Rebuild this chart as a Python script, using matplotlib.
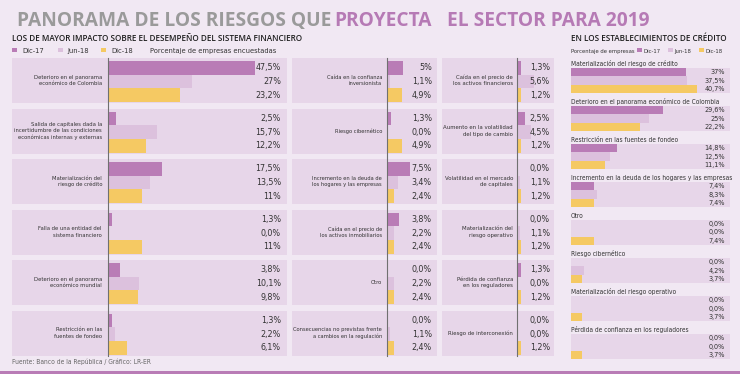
import os
import re
import glob
import matplotlib
matplotlib.use('Agg')
import matplotlib.pyplot as plt
from matplotlib import font_manager as fm
from matplotlib.patches import Rectangle

# ---------------- data ----------------
periods = ['Dic-17', 'Jun-18', 'Dic-18']

col1_labels = ["Deterioro en el panorama\neconómico de Colombia",
               "Salida de capitales dada la\nincertidumbre de las condiciones\neconómicas internas y externas",
               "Materialización del\nriesgo de crédito",
               "Falla de una entidad del\nsistema financiero",
               "Deterioro en el panorama\neconómico mundial",
               "Restricción en las\nfuentes de fondeo"]
col1_dic17 = [47.5, 2.5, 17.5, 1.3, 3.8, 1.3]
col1_jun18 = [27, 15.7, 13.5, 0.0, 10.1, 2.2]
col1_dic18 = [23.2, 12.2, 11, 11, 9.8, 6.1]

col2_labels = ["Caída en la confianza\ninversionista",
               "Riesgo cibernético",
               "Incremento en la deuda de\nlos hogares y las empresas",
               "Caída en el precio de\nlos activos inmobiliarios",
               "Otro",
               "Consecuencias no previstas frente\na cambios en la regulación"]
col2_dic17 = [5, 1.3, 7.5, 3.8, 0.0, 0.0]
col2_jun18 = [1.1, 0.0, 3.4, 2.2, 2.2, 1.1]
col2_dic18 = [4.9, 4.9, 2.4, 2.4, 2.4, 2.4]

col3_labels = ["Caída en el precio de\nlos activos financieros",
               "Aumento en la volatilidad\ndel tipo de cambio",
               "Volatilidad en el mercado\nde capitales",
               "Materialización del\nriesgo operativo",
               "Pérdida de confianza\nen los reguladores",
               "Riesgo de interconexión"]
col3_dic17 = [1.3, 2.5, 0.0, 0.0, 1.3, 0.0]
col3_jun18 = [5.6, 4.5, 1.1, 1.1, 0.0, 0.0]
col3_dic18 = [1.2, 1.2, 1.2, 1.2, 1.2, 1.2]

cred_labels = ["Materialización del riesgo de crédito",
               "Deterioro en el panorama económico de Colombia",
               "Restricción en las fuentes de fondeo",
               "Incremento en la deuda de los hogares y las empresas",
               "Otro",
               "Riesgo cibernético",
               "Materialización del riesgo operativo",
               "Pérdida de confianza en los reguladores"]
cred_dic17 = [37, 29.6, 14.8, 7.4, 0.0, 0.0, 0.0, 0.0]
cred_jun18 = [37.5, 25, 12.5, 8.3, 0.0, 4.2, 0.0, 0.0]
cred_dic18 = [40.7, 22.2, 11.1, 7.4, 7.4, 3.7, 3.7, 3.7]

# ---------------- style ----------------
BG = '#f1e8f3'
PANEL = '#e7d6e9'
COLORS = ['#b97cb6', '#dcc1dd', '#f5c963']
GRAY_T = '#9a9a9a'
PURPLE_T = '#b67ab5'
TXT = '#333333'

names = {f.name for f in fm.fontManager.ttflist}
HEAD = 'Open Sans' if 'Open Sans' in names else 'DejaVu Sans'


def find_narrow():
    files = [f.fname for f in fm.fontManager.ttflist]
    for d in ['/usr/share/fonts', '/usr/local/share/fonts', os.path.expanduser('~/.fonts'),
              os.path.expanduser('~/.local/share/fonts')]:
        files += glob.glob(os.path.join(d, '**', '*.[ot]tf'), recursive=True)
    pats = [r'LiberationSansNarrow-Regular\.ttf$',
            r'NotoSans-Condensed\.(ttf|otf)$',
            r'NotoSans-SemiCondensed\.(ttf|otf)$',
            r'DejaVuSansCondensed\.ttf$',
            r'(Sans|Roboto|Lato|Inter)[A-Za-z]*-?Condensed(-Regular)?\.(ttf|otf)$',
            r'Narrow(-Regular)?\.(ttf|otf)$']
    for p in pats:
        for fn in files:
            if re.search(p, os.path.basename(fn)):
                return fn
    return None


NARROW_FILE = find_narrow()


def nfont(size):
    if NARROW_FILE:
        return fm.FontProperties(fname=NARROW_FILE, size=size)
    return fm.FontProperties(family='Liberation Sans', size=size)


def fmt(v):
    if v == 0:
        return '0,0%'
    if float(v).is_integer():
        return '%d%%' % int(v)
    return ('%.1f%%' % v).replace('.', ',')


W, H = 740, 374
fig = plt.figure(figsize=(W / 100, H / 100), dpi=100)
fig.patch.set_facecolor(BG)

groups = {}  # name -> list of (text artist, max width px)


def fit(group, t, maxw):
    groups.setdefault(group, []).append((t, maxw))


def px_axes(x0, y0, x1, y1, **kw):
    return fig.add_axes([x0 / W, 1 - y1 / H, (x1 - x0) / W, (y1 - y0) / H], **kw)


def clean(ax):
    for s in ax.spines.values():
        s.set_visible(False)
    ax.set_xticks([])
    ax.set_yticks([])


PXP = 3.1  # pixels per percent point

columns = [
    dict(labels=col1_labels, vals=(col1_dic17, col1_jun18, col1_dic18),
         x0=12, x1=287, axis=108, lab_r=102, val_r=281),
    dict(labels=col2_labels, vals=(col2_dic17, col2_jun18, col2_dic18),
         x0=292, x1=437, axis=387, lab_r=382, val_r=432),
    dict(labels=col3_labels, vals=(col3_dic17, col3_jun18, col3_dic18),
         x0=442, x1=554, axis=517, lab_r=513, val_r=550),
]

ov = fig.add_axes([0, 0, 1, 1], zorder=10)
ov.set_xlim(0, W)
ov.set_ylim(H, 0)
ov.axis('off')
ov.patch.set_alpha(0)

PANEL_TOP, PANEL_H, PANEL_STEP = 58, 45, 50.5
for k, col in enumerate(columns):
    w = col['x1'] - col['x0']
    for i, lab in enumerate(col['labels']):
        top = PANEL_TOP + PANEL_STEP * i
        ax = px_axes(col['x0'], top, col['x1'], top + PANEL_H)
        ax.set_facecolor(PANEL)
        clean(ax)
        ax.set_xlim((col['x0'] - col['axis']) / PXP, (col['x1'] - col['axis']) / PXP)
        ax.set_ylim(2.57, -0.72)
        vals = [s[i] for s in col['vals']]
        ax.barh(range(3), vals, height=1.0, color=COLORS, linewidth=0)
        tr = ax.get_yaxis_transform()
        for j, v in enumerate(vals):
            ax.text((col['val_r'] - col['x0']) / w, j, fmt(v), transform=tr,
                    ha='right', va='center', fontproperties=nfont(6.4), color=TXT)
        t = ax.text((col['lab_r'] - col['x0']) / w, 0.5, lab, transform=ax.transAxes,
                    ha='right', va='center', multialignment='right',
                    fontproperties=nfont(5.8), color=TXT, linespacing=1.3)
        fit('cat%d' % k, t, col['lab_r'] - col['x0'] - 2)
    ov.plot([col['axis'], col['axis']], [PANEL_TOP, PANEL_TOP + PANEL_STEP * 5 + PANEL_H],
            color='#707070', lw=0.8)

# right section: establecimientos de crédito
CX0, CX1 = 571, 730
for i, lab in enumerate(cred_labels):
    top = 68 + 38 * i
    ax = px_axes(CX0, top, CX1, top + 25)
    ax.set_facecolor(PANEL)
    clean(ax)
    ax.set_xlim(0, (CX1 - CX0) / PXP)
    ax.set_ylim(2.5, -0.5)
    vals = [cred_dic17[i], cred_jun18[i], cred_dic18[i]]
    ax.barh(range(3), vals, height=1.0, color=COLORS, linewidth=0)
    tr = ax.get_yaxis_transform()
    for j, v in enumerate(vals):
        ax.text((725 - CX0) / (CX1 - CX0), j, fmt(v), transform=tr, ha='right',
                va='center', fontproperties=nfont(5.2), color=TXT)
    t = ov.text(CX0, top - 2, lab, ha='left', va='baseline',
                fontproperties=nfont(5.8), color=TXT)
    fit('cred', t, 160)

# titles
ov.text(17, 26, "PANORAMA DE LOS RIESGOS QUE", ha='left', va='baseline',
        fontsize=13.8, family=HEAD, fontweight='bold', color=GRAY_T)
ov.text(334, 26, "PROYECTA", ha='left', va='baseline',
        fontsize=13.8, family=HEAD, fontweight='bold', color=PURPLE_T)
ov.text(447, 26, "EL SECTOR PARA 2019", ha='left', va='baseline',
        fontsize=13.8, family=HEAD, fontweight='bold', color=PURPLE_T)

ov.text(12, 41, "LOS DE MAYOR IMPACTO SOBRE EL DESEMPEÑO DEL SISTEMA FINANCIERO",
        ha='left', va='baseline', fontsize=5.85, family=HEAD, fontweight='semibold', color='#1e1e1e')
ov.text(571, 41, "EN LOS ESTABLECIMIENTOS DE CRÉDITO",
        ha='left', va='baseline', fontsize=5.85, family=HEAD, fontweight='semibold', color='#1e1e1e')

# legends
for (sx, tx), name, c in zip([(12, 22), (58, 67), (101, 111)], periods, COLORS):
    ov.add_patch(Rectangle((sx, 47.8), 4.6, 4.6, color=c, lw=0))
    t = ov.text(tx, 52.5, name, ha='left', va='baseline', fontproperties=nfont(5.6), color=TXT)
    fit('legL', t, 30)
t = ov.text(150, 52.5, "Porcentaje de empresas encuestadas", ha='left', va='baseline',
            fontproperties=nfont(5.6), color=TXT)
fit('legL', t, 125)

t = ov.text(571, 52.5, "Porcentaje de empresas", ha='left', va='baseline',
            fontproperties=nfont(5.6), color=TXT)
fit('legR', t, 64)
for (sx, tx), name, c in zip([(637, 643), (668, 674), (699, 705)], periods, COLORS):
    ov.add_patch(Rectangle((sx, 47.8), 4.6, 4.6, color=c, lw=0))
    t = ov.text(tx, 52.5, name, ha='left', va='baseline', fontproperties=nfont(5.6), color=TXT)
    fit('legR', t, 24)

# footer
ov.text(12, 364, "Fuente: Banco de la República / Gráfico: LR-ER", ha='left', va='baseline',
        fontproperties=nfont(4.8), color='#666666')
ov.add_patch(Rectangle((0, 371), W, 3, color=COLORS[0], lw=0))

# one common size per group of texts, small enough for the widest to fit
fig.canvas.draw()
r = fig.canvas.get_renderer()
for name, items in groups.items():
    base = items[0][0].get_fontsize()
    scale = min(1.0, min(maxw / t.get_window_extent(r).width for t, maxw in items))
    size = base * scale
    for t, _ in items:
        t.set_fontsize(size)

fig.savefig('out.png', dpi=100, facecolor=BG)
